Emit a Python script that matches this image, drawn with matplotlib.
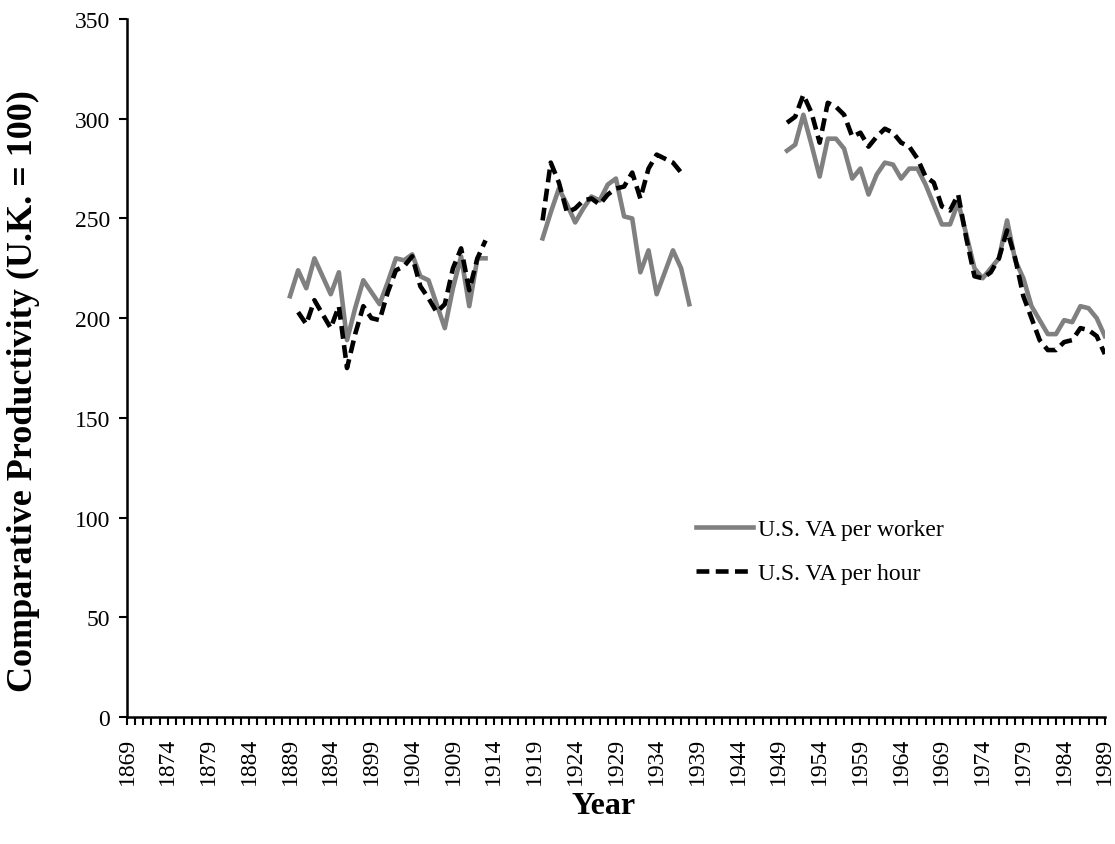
import numpy as np
import pandas as pd
import matplotlib
matplotlib.use('Agg')
import matplotlib.pyplot as plt
from matplotlib.ticker import MultipleLocator

plt.rcParams['font.family'] = ['Liberation Serif', 'DejaVu Serif']

first_year = 1869
last_year = 1989

# U.S. value added per worker (U.K. = 100)
worker_years_a = list(range(1889, 1914))
worker_a = [211, 224, 215, 230, 221, 212, 223, 189, 205, 219, 213, 207, 218,
            230, 229, 232, 221, 219, 207, 195, 215, 231, 206, 230, 230]
worker_years_b = list(range(1920, 1939))
worker_b = [240, 253, 265, 257, 248, 255, 261, 259, 267, 270, 251, 250, 223,
            234, 212, 223, 234, 225, 207]
worker_years_c = list(range(1950, 1990))
worker_c = [284, 287, 302, 287, 271, 290, 290, 285, 270, 275, 262, 272, 278,
            277, 270, 275, 275, 267, 257, 247, 247, 258, 242, 225, 220, 225,
            230, 249, 229, 220, 206, 199, 192, 192, 199, 198, 206, 205, 200, 191]

# U.S. value added per hour (U.K. = 100)
hour_years_a = list(range(1890, 1914))
hour_a = [203, 197, 209, 202, 195, 206, 175, 192, 206, 200, 199, 213, 224,
          226, 231, 216, 210, 203, 207, 225, 235, 214, 230, 239]
hour_years_b = list(range(1920, 1938))
hour_b = [249, 278, 268, 253, 255, 259, 260, 257, 262, 265, 266, 273, 260,
          275, 282, 280, 278, 273]
hour_years_c = list(range(1950, 1990))
hour_c = [298, 301, 312, 303, 288, 308, 306, 302, 291, 293, 286, 291, 295,
          293, 288, 286, 280, 271, 268, 256, 254, 262, 240, 221, 220, 223,
          230, 244, 230, 211, 200, 189, 184, 184, 188, 189, 195, 194, 191, 182]


def build_series(pairs):
    s = pd.Series(dtype=float)
    for yrs, vals in pairs:
        s = pd.concat([s, pd.Series(vals, index=yrs, dtype=float)])
    return s.reindex(range(first_year, last_year + 1))


def main():
    worker = build_series([(worker_years_a, worker_a), (worker_years_b, worker_b),
                           (worker_years_c, worker_c)])
    hour = build_series([(hour_years_a, hour_a), (hour_years_b, hour_b),
                         (hour_years_c, hour_c)])

    fig = plt.figure(figsize=(11.15, 8.45), dpi=100)
    ax = fig.add_axes([0.1139, 0.1503, 0.877, 0.826])

    ax.plot(worker.index, worker.values, color='#808080', lw=3.3,
            label='U.S. VA per worker')
    ax.plot(hour.index, hour.values, color='black', lw=3.3,
            linestyle=(0, (2.8, 1.4)), label='U.S. VA per hour')

    ax.set_xlim(first_year, last_year)
    ax.set_ylim(0, 350)
    ax.yaxis.set_major_locator(MultipleLocator(50))
    ax.set_xticks(range(first_year, last_year + 1, 5))
    ax.set_xticks(range(first_year, last_year + 1), minor=True)
    ax.tick_params(axis='x', which='both', direction='out', length=6,
                   width=1.5, labelsize=17, labelrotation=90, pad=8)
    ax.tick_params(axis='y', which='major', direction='out', length=6,
                   width=1.5, labelsize=17, pad=6)

    for side in ['top', 'right']:
        ax.spines[side].set_visible(False)
    for side in ['left', 'bottom']:
        ax.spines[side].set_linewidth(1.8)

    ax.set_xlabel('Year', fontsize=23, fontweight='bold')
    ax.xaxis.set_label_coords(0.487, -0.106)
    ax.set_ylabel('Comparative Productivity (U.K. = 100)', fontsize=26,
                  fontweight='bold')
    ax.yaxis.set_label_coords(-0.089, 0.468)

    ax.legend(loc='upper left', bbox_to_anchor=(0.56, 0.315), frameon=False,
              fontsize=17, handlelength=2.4, handletextpad=0.25,
              labelspacing=0.95)

    fig.savefig('out.png', dpi=100)
    plt.close(fig)


if __name__ == '__main__':
    main()
